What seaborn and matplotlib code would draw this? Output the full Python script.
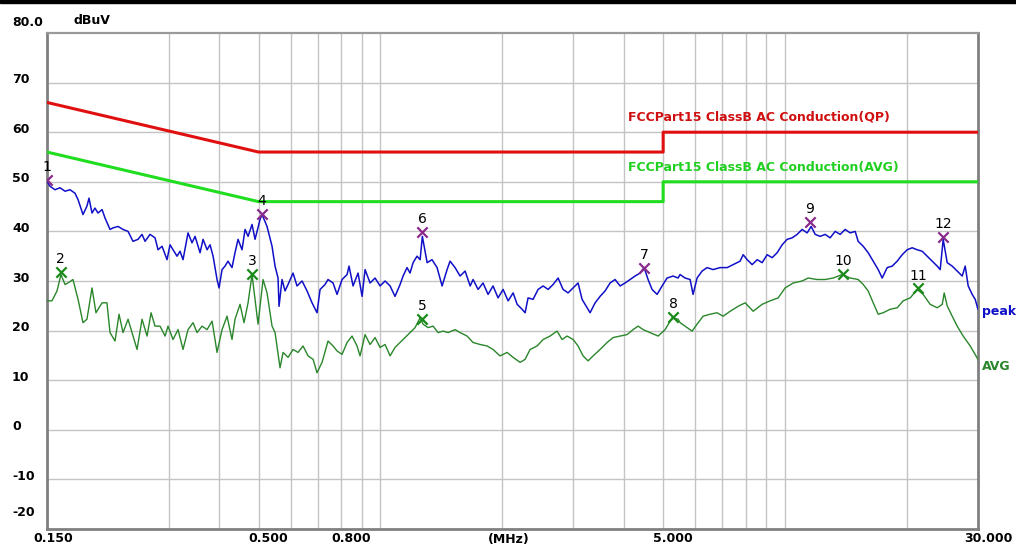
import numpy as np
import pandas as pd
import matplotlib
matplotlib.use("Agg")
import matplotlib.pyplot as plt
import matplotlib.transforms as mtransforms
from matplotlib.patches import Rectangle
import seaborn as sns

# Peak trace (MHz, dBuV)
peak_freq = [0.150, 0.1526, 0.157, 0.1615, 0.1662, 0.171, 0.1759, 0.179, 0.1841, 0.1883,
             0.1905, 0.1938, 0.1971, 0.2005, 0.2052, 0.2087, 0.2147, 0.2184, 0.2247, 0.2312,
             0.2379, 0.2447, 0.2518, 0.2576, 0.2621, 0.2696, 0.2774, 0.2822, 0.2887, 0.297,
             0.3021, 0.3073, 0.3144, 0.3198, 0.3253, 0.3347, 0.3424, 0.3484, 0.3584, 0.3646,
             0.373, 0.3794, 0.386, 0.3948, 0.3993, 0.4062, 0.4131, 0.4202, 0.4299, 0.4373,
             0.4449, 0.4551, 0.463, 0.471, 0.4818, 0.4901, 0.5042, 0.51, 0.5247, 0.5399,
             0.5492, 0.5586, 0.5618, 0.5715, 0.5813, 0.5914, 0.6084, 0.6224, 0.6405, 0.6589,
             0.6779, 0.6974, 0.7096, 0.73, 0.7425, 0.764, 0.7816, 0.8041, 0.8274, 0.8368,
             0.8561, 0.8809, 0.9012, 0.9167, 0.9432, 0.9703, 0.9984, 1.027, 1.057, 1.087,
             1.119, 1.138, 1.164, 1.184, 1.205, 1.232, 1.254, 1.27, 1.305, 1.342,
             1.381, 1.421, 1.462, 1.487, 1.530, 1.574, 1.620, 1.667, 1.695, 1.744,
             1.794, 1.846, 1.899, 1.954, 2.011, 2.069, 2.129, 2.178, 2.240, 2.279,
             2.318, 2.385, 2.454, 2.525, 2.598, 2.673, 2.750, 2.829, 2.910, 2.995,
             3.081, 3.152, 3.243, 3.299, 3.395, 3.492, 3.593, 3.697, 3.803, 3.914,
             4.026, 4.142, 4.262, 4.385, 4.486, 4.589, 4.694, 4.830, 4.970, 5.112,
             5.291, 5.443, 5.505, 5.664, 5.828, 5.928, 6.065, 6.240, 6.420, 6.643,
             6.914, 7.196, 7.446, 7.748, 7.883, 8.065, 8.297, 8.537, 8.784, 9.036,
             9.297, 9.564, 9.842, 10.125, 10.418, 10.720, 11.028, 11.347, 11.609, 11.876,
             12.218, 12.571, 12.932, 13.307, 13.692, 14.086, 14.494, 14.913, 15.169, 15.609,
             16.058, 16.523, 17.001, 17.390, 17.892, 18.407, 18.940, 19.488, 20.049, 20.630,
             21.222, 21.837, 22.469, 23.115, 23.784, 24.192, 24.609, 25.176, 25.905, 26.650,
             27.422, 27.893, 28.373, 29.027, 29.526, 30.0]
peak_level = [50.1, 49.1, 48.4, 48.8, 48.1, 48.4, 47.7, 46.4, 43.4, 45.1,
              46.7, 43.7, 44.7, 43.7, 44.4, 42.7, 40.4, 40.7, 41.0, 40.4,
              40.0, 38.0, 38.4, 39.4, 38.0, 39.4, 38.7, 36.3, 37.0, 34.3,
              37.3, 36.3, 35.0, 36.0, 34.3, 39.7, 37.7, 39.0, 35.7, 38.4,
              36.3, 37.3, 35.0, 30.3, 28.6, 32.3, 33.0, 34.0, 32.7, 35.7,
              38.4, 36.3, 40.4, 39.0, 41.4, 38.4, 42.4, 43.4, 41.0, 37.0,
              33.0, 30.6, 24.9, 30.3, 28.0, 29.3, 31.6, 29.0, 30.0, 28.0,
              25.6, 23.6, 28.3, 29.3, 30.3, 29.6, 27.3, 30.3, 31.3, 33.0,
              29.0, 31.6, 26.9, 32.3, 29.6, 30.6, 29.0, 30.0, 29.0, 26.9,
              29.3, 31.0, 32.7, 31.6, 33.7, 35.0, 34.3, 39.0, 33.7, 34.3,
              32.7, 29.0, 32.3, 34.0, 32.7, 31.0, 32.0, 29.0, 30.3, 28.3,
              29.6, 27.3, 29.0, 26.6, 28.3, 26.0, 27.6, 25.3, 24.3, 23.6,
              26.6, 26.3, 28.3, 29.0, 28.3, 29.3, 30.6, 28.3, 27.6, 28.6,
              29.6, 26.3, 24.6, 23.6, 25.6, 26.9, 28.0, 29.6, 30.3, 29.0,
              29.6, 30.3, 31.0, 31.6, 32.7, 30.3, 28.3, 27.3, 29.0, 30.6,
              31.0, 30.6, 31.3, 30.6, 30.3, 27.3, 30.6, 32.0, 32.7, 32.3,
              32.7, 32.7, 33.3, 34.0, 35.3, 34.3, 33.3, 34.3, 33.7, 35.3,
              34.7, 35.7, 37.3, 38.4, 38.7, 39.4, 40.4, 39.7, 41.0, 39.4,
              39.0, 39.4, 38.7, 40.0, 39.4, 40.4, 39.7, 40.0, 38.0, 37.0,
              35.7, 34.0, 32.3, 30.6, 32.7, 33.0, 34.0, 35.3, 36.3, 36.7,
              36.3, 36.0, 35.0, 34.0, 33.0, 32.3, 38.4, 33.7, 33.0, 32.0,
              31.0, 33.0, 29.0, 27.3, 26.3, 24.3]

# Average trace
avg_freq = [0.150, 0.1543, 0.1588, 0.1624, 0.1662, 0.169, 0.1739, 0.179, 0.1841, 0.1883,
            0.1938, 0.1982, 0.2052, 0.2110, 0.2147, 0.2209, 0.226, 0.2312, 0.2379, 0.2447,
            0.2504, 0.2576, 0.2651, 0.2712, 0.2774, 0.2854, 0.2937, 0.2987, 0.3073, 0.3162,
            0.3253, 0.3347, 0.3444, 0.3523, 0.3625, 0.373, 0.3838, 0.3948, 0.4062, 0.4179,
            0.4299, 0.4373, 0.45, 0.4603, 0.471, 0.4818, 0.4901, 0.4985, 0.513, 0.5247,
            0.5399, 0.5492, 0.565, 0.5748, 0.5914, 0.6084, 0.626, 0.6441, 0.6628, 0.682,
            0.6974, 0.7176, 0.7425, 0.764, 0.7816, 0.8041, 0.8274, 0.8513, 0.8758, 0.8909,
            0.9167, 0.9432, 0.9703, 0.9984, 1.027, 1.057, 1.087, 1.119, 1.151, 1.184,
            1.2185, 1.254, 1.275, 1.312, 1.350, 1.389, 1.429, 1.470, 1.530, 1.574,
            1.638, 1.695, 1.764, 1.836, 1.899, 1.976, 2.057, 2.129, 2.215, 2.279,
            2.345, 2.440, 2.525, 2.627, 2.734, 2.813, 2.894, 2.995, 3.081, 3.170,
            3.262, 3.356, 3.492, 3.634, 3.761, 3.914, 4.073, 4.214, 4.336, 4.461,
            4.643, 4.859, 5.056, 5.262, 5.443, 5.505, 5.729, 5.895, 6.065, 6.275,
            6.530, 6.795, 7.034, 7.320, 7.662, 7.973, 8.345, 8.784, 9.191, 9.620,
            10.011, 10.478, 11.028, 11.413, 12.011, 12.571, 13.155, 13.847, 14.494, 15.169,
            15.609, 16.058, 16.523, 17.001, 17.484, 18.197, 18.940, 19.60, 20.40, 21.222,
            21.958, 22.85, 23.784, 24.48, 24.75, 25.176, 25.905, 26.650, 27.57, 28.70,
            30.0]
avg_level = [26.0, 26.0, 28.0, 31.3, 29.3, 29.6, 30.3, 26.3, 21.6, 22.3,
             28.6, 23.6, 25.6, 25.6, 19.6, 17.9, 23.3, 19.6, 22.3, 18.9,
             16.2, 22.3, 18.9, 23.6, 20.9, 20.9, 18.9, 20.9, 18.2, 20.2,
             16.2, 20.2, 21.6, 19.6, 20.9, 20.2, 21.9, 15.6, 20.2, 22.9,
             18.2, 22.3, 25.3, 21.6, 25.6, 31.3, 26.3, 21.3, 30.3, 27.6,
             20.9, 19.6, 12.5, 15.6, 14.6, 16.2, 15.6, 16.9, 14.9, 14.2,
             11.5, 13.6, 17.9, 16.9, 15.9, 15.2, 17.6, 18.9, 16.9, 14.9,
             19.2, 17.2, 18.6, 16.6, 17.2, 14.9, 16.6, 17.6, 18.6, 19.6,
             20.6, 22.6, 21.3, 20.6, 20.9, 19.6, 19.9, 19.6, 20.2, 19.6,
             18.9, 17.6, 17.2, 16.9, 16.2, 14.9, 15.6, 14.6, 13.6, 14.2,
             16.2, 16.9, 18.2, 18.9, 19.9, 18.2, 18.9, 18.2, 16.9, 14.9,
             13.9, 14.9, 16.2, 17.6, 18.6, 18.9, 19.2, 20.2, 20.9, 20.2,
             19.6, 18.9, 20.2, 22.6, 22.3, 21.6, 20.6, 19.9, 21.3, 22.9,
             23.3, 23.6, 22.9, 23.9, 24.9, 25.6, 23.9, 25.3, 26.0, 26.6,
             28.6, 29.6, 30.0, 30.6, 30.3, 30.3, 30.6, 31.3, 30.6, 30.3,
             29.3, 28.0, 25.6, 23.3, 23.6, 24.3, 24.6, 26.0, 26.6, 28.3,
             27.3, 25.3, 24.6, 25.3, 27.6, 25.0, 22.9, 20.9, 18.9, 16.9,
             14.2]

# FCC Part 15 Class B limit lines
qp_freq = [0.15, 0.5, 5.0, 5.0, 30.0]
qp_level = [66, 56, 56, 60, 60]
avlim_freq = [0.15, 0.5, 5.0, 5.0, 30.0]
avlim_level = [56, 46, 46, 50, 50]

# Numbered markers
pk_mark_no = ["1", "4", "6", "7", "9", "12"]
pk_mark_freq = [0.150, 0.51, 1.27, 4.49, 11.5, 24.6]
pk_mark_level = [50.3, 43.6, 39.8, 32.7, 41.9, 38.8]
av_mark_no = ["2", "3", "5", "8", "10", "11"]
av_mark_freq = [0.162, 0.482, 1.27, 5.29, 13.9, 21.3]
av_mark_level = [31.9, 31.5, 22.3, 22.7, 31.5, 28.5]

grid_freq = [0.3, 0.4, 0.5, 0.6, 0.7, 0.8, 0.9, 1, 2, 3, 4, 5, 6, 7, 8, 9, 10, 20]
x_labels = ["0.150", "0.500", "0.800", "5.000", "30.000"]
x_label_freq = [0.15, 0.5, 0.8, 5.0, 30.0]
y_ticks = [70, 60, 50, 40, 30, 20, 10, 0, -10]

sns.set_style("white")
plt.rcParams['font.family'] = ['DejaVu Sans']
plt.rcParams['text.color'] = 'black'

fig = plt.figure(figsize=(10.16, 5.47), dpi=100)
ax = fig.add_axes([47 / 1016, 18 / 547, 931 / 1016, 496 / 547])

peak_df = pd.DataFrame({"freq": peak_freq, "level": peak_level})
avg_df = pd.DataFrame({"freq": avg_freq, "level": avg_level})

sns.lineplot(data=peak_df, x="freq", y="level", ax=ax, color="#1010c8",
             linewidth=1.1, estimator=None, sort=False, zorder=3)
sns.lineplot(data=avg_df, x="freq", y="level", ax=ax, color="#2a862a",
             linewidth=1.0, estimator=None, sort=False, zorder=3)
sns.lineplot(x=qp_freq, y=qp_level, ax=ax, color="#e01010", linewidth=2.2,
             estimator=None, sort=False, zorder=4)
sns.lineplot(x=avlim_freq, y=avlim_level, ax=ax, color="#20dd20", linewidth=2.2,
             estimator=None, sort=False, zorder=4)

sns.scatterplot(x=pk_mark_freq, y=pk_mark_level, ax=ax, marker="x", s=55,
                color="#8a2a8a", linewidth=1.6, zorder=5)
sns.scatterplot(x=av_mark_freq, y=av_mark_level, ax=ax, marker="x", s=55,
                color="#1a8a1a", linewidth=1.6, zorder=5)

for no, f, v in zip(pk_mark_no + av_mark_no, pk_mark_freq + av_mark_freq,
                    pk_mark_level + av_mark_level):
    ax.text(f, v + 2.6, no, ha="center", va="center", fontsize=10,
            color="black", zorder=6, clip_on=False)

ax.set_xscale("log")
ax.set_xlim(0.15, 30)
ax.set_ylim(-20, 80)
ax.set_xticks(grid_freq)
ax.set_xticks([], minor=True)
ax.set_yticks(y_ticks)
ax.set_xticklabels([])
ax.set_yticklabels([])
ax.tick_params(length=0)
ax.grid(True, color="#c4c4c4", linewidth=1.0)
ax.set_axisbelow(True)
ax.set_xlabel("")
ax.set_ylabel("")
for side in ["left", "bottom", "right"]:
    ax.spines[side].set_color("#808080")
    ax.spines[side].set_linewidth(2)
ax.spines["top"].set_color("#9a9a9a")
ax.spines["top"].set_linewidth(1.6)

# y labels, left aligned at the figure edge
ytr = mtransforms.blended_transform_factory(fig.transFigure, ax.transData)
for v in y_ticks:
    ax.text(12 / 1016, v + 0.6, str(v), transform=ytr, ha="left", va="center",
            fontsize=9, fontweight="bold", color="black", clip_on=False)
ax.text(12 / 1016, 82.2, "80.0", transform=ytr, ha="left", va="center",
        fontsize=9, fontweight="bold", color="black", clip_on=False)
ax.text(12 / 1016, -16.6, "-20", transform=ytr, ha="left", va="center",
        fontsize=9, fontweight="bold", color="black", clip_on=False)
fig.text(73 / 1016, 1 - 20 / 547, "dBuV", ha="left", va="center",
         fontsize=9, fontweight="bold", color="black")

# x labels, shifted a little right of their grid lines
xtr = mtransforms.blended_transform_factory(ax.transData, fig.transFigure)
for lab, f in zip(x_labels, x_label_freq):
    shift = 6 if f == 0.15 else 10
    off = mtransforms.ScaledTranslation(shift / 100, 0, fig.dpi_scale_trans)
    ax.text(f, 1 - 539 / 547, lab, transform=xtr + off, ha="center", va="center",
            fontsize=9, fontweight="bold", color="black", clip_on=False)
fig.text(509 / 1016, 1 - 539 / 547, "(MHz)", ha="center", va="center",
         fontsize=9, fontweight="bold", color="black")

# limit and trace names
fig.text(628 / 1016, 1 - 117 / 547, "FCCPart15 ClassB AC Conduction(QP)",
         ha="left", va="center", fontsize=9, fontweight="semibold", color="#d01010")
fig.text(628 / 1016, 1 - 167 / 547, "FCCPart15 ClassB AC Conduction(AVG)",
         ha="left", va="center", fontsize=9, fontweight="semibold", color="#20d020")
fig.text(982 / 1016, 1 - 312 / 547, "peak", ha="left", va="center",
         fontsize=9, fontweight="bold", color="#1010c8")
fig.text(982 / 1016, 1 - 366 / 547, "AVG", ha="left", va="center",
         fontsize=9, fontweight="bold", color="#2a862a")

# black strip along the top edge
fig.patches.append(Rectangle((0, 1 - 3 / 547), 1, 3 / 547, transform=fig.transFigure,
                             color="black", zorder=10))

fig.savefig("out.png", dpi=100)
